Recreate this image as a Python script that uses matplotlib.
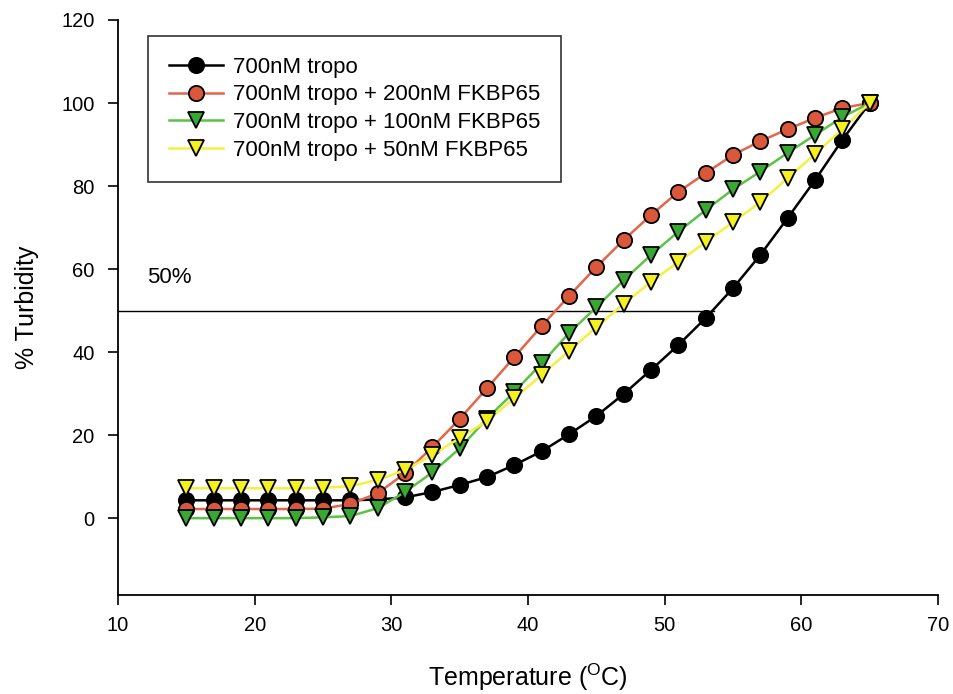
import numpy as np
import matplotlib.pyplot as plt

plt.rcParams['font.family'] = ['Liberation Sans', 'DejaVu Sans']

# temperatures (deg C)
temp = np.arange(15, 66, 2)

# % turbidity
tropo = [4.3, 4.3, 4.3, 4.3, 4.3, 4.3, 4.3, 4.5, 5.0, 6.3, 8.0, 9.9, 12.8, 16.1,
         20.2, 24.6, 29.9, 35.7, 41.7, 48.2, 55.4, 63.4, 72.3, 81.4, 91.1, 100]
fk200 = [2.2, 2.2, 2.2, 2.2, 2.2, 2.3, 3.4, 6.0, 10.8, 17.1, 23.9, 31.3, 38.8, 46.3,
         53.5, 60.5, 67.0, 73.0, 78.6, 83.1, 87.5, 90.8, 93.7, 96.4, 98.8, 100]
fk100 = [0.0, 0.0, 0.0, 0.0, 0.0, 0.2, 0.5, 2.4, 6.3, 11.0, 16.8, 24.0, 30.4, 37.3,
         44.6, 50.8, 57.3, 63.4, 69.0, 74.2, 79.2, 83.5, 88.0, 92.3, 96.6, 100]
fk50 = [7.2, 7.2, 7.2, 7.2, 7.2, 7.3, 7.7, 9.2, 11.6, 15.2, 19.3, 23.4, 28.9, 34.5,
        40.3, 46.0, 51.6, 56.9, 61.7, 66.5, 71.3, 76.1, 81.9, 87.7, 93.7, 100]

labels = ['700nM tropo', '700nM tropo + 200nM FKBP65',
          '700nM tropo + 100nM FKBP65', '700nM tropo + 50nM FKBP65']

fig = plt.figure(figsize=(9.54, 6.94), dpi=100)
ax = fig.add_axes([0.1237, 0.1427, 0.8595, 0.8285])

ax.plot([10, 53.6], [50, 50], color='black', lw=1.0)
ax.text(12.1, 56.6, '50%', fontsize=16)

ax.plot(temp, tropo, '-o', color='black', mfc='black', mec='black',
        ms=11, mew=1.3, lw=1.8, label=labels[0], zorder=3)
ax.plot(temp, fk200, '-o', color='#e2664a', mfc='#d9583b', mec='black',
        ms=11, mew=1.3, lw=1.8, label=labels[1], zorder=4)
ax.plot(temp, fk100, '-v', color='#5cc347', mfc='#38a832', mec='black',
        ms=11, mew=1.3, lw=1.8, label=labels[2], zorder=5)
ax.plot(temp, fk50, '-v', color='#f4f040', mfc='#f5f020', mec='black',
        ms=11, mew=1.3, lw=1.8, label=labels[3], zorder=6)

ax.set_xlim(10, 70)
ax.set_ylim(-18.5, 120)
ax.set_xticks(range(10, 71, 10))
ax.set_yticks(range(0, 121, 20))
for s in ['top', 'right']:
    ax.spines[s].set_visible(False)
for s in ['left', 'bottom']:
    ax.spines[s].set_linewidth(1.3)
ax.tick_params(labelsize=14.5, length=7, width=1.2)
ax.tick_params(axis='y', pad=10)
ax.tick_params(axis='x', pad=8)

ax.set_xlabel(r'Temperature ($^\mathregular{O}$C)', fontsize=18, labelpad=19)
ax.set_ylabel('% Turbidity', fontsize=18, labelpad=16)

leg = ax.legend(loc='upper left', bbox_to_anchor=(0.037, 0.973), borderaxespad=0,
                fontsize=16, frameon=True, fancybox=False, edgecolor='black',
                handlelength=2.4, labelspacing=0.3, borderpad=0.95,
                handletextpad=0.45)
leg.get_frame().set_linewidth(1.2)

fig.savefig('out.png', dpi=100)
